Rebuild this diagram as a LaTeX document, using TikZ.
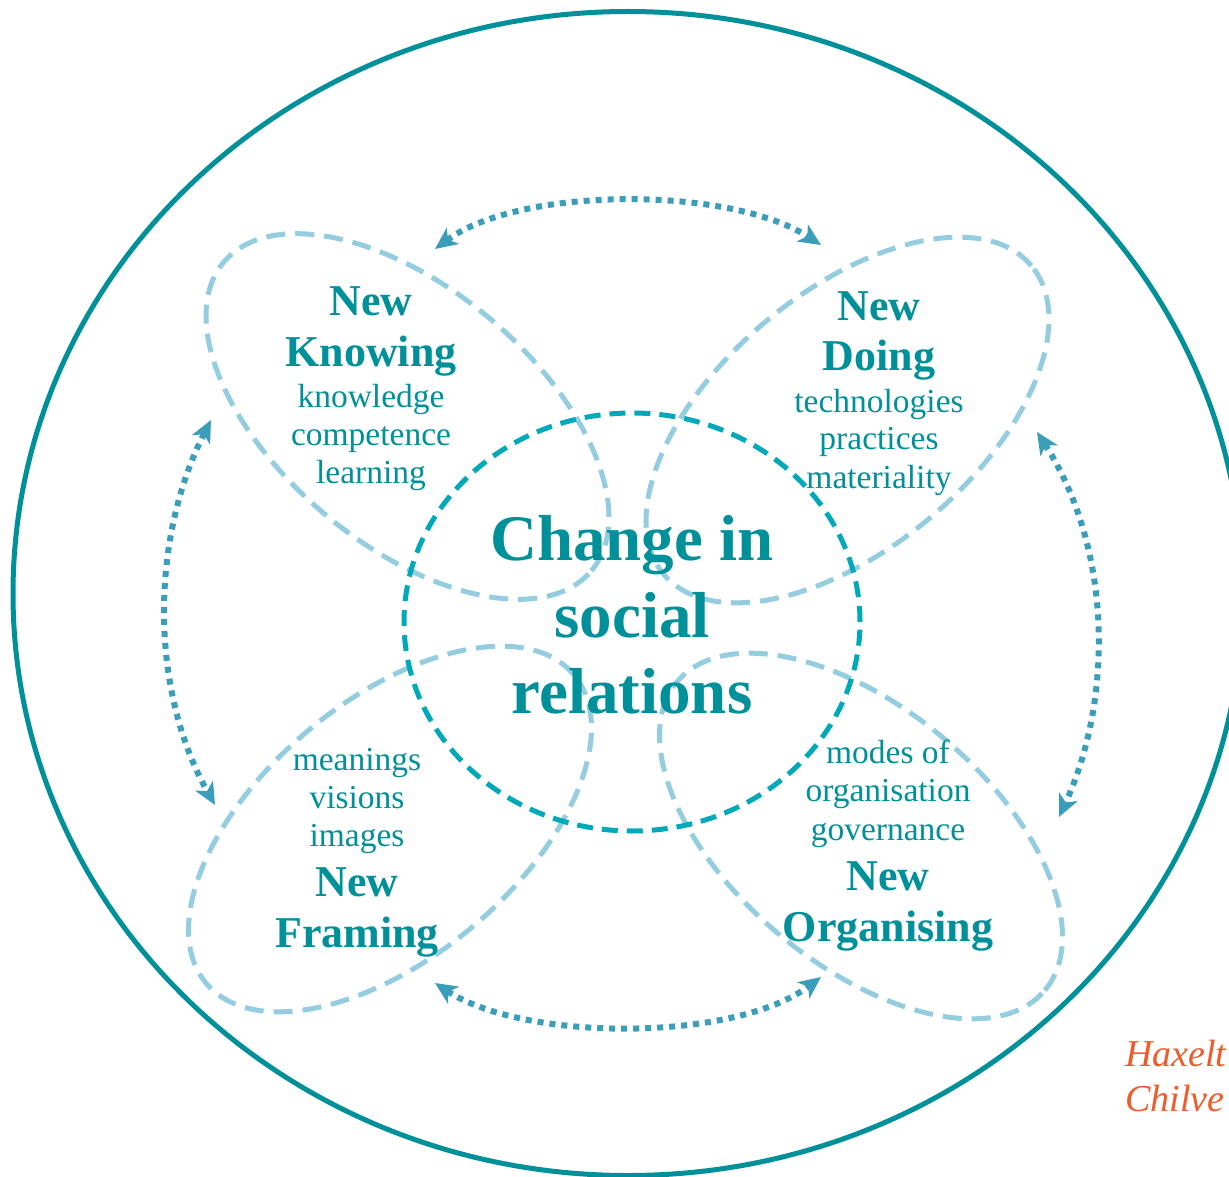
\documentclass[tikz,border=0pt]{standalone}
\usepackage{fontspec}
\setmainfont{Liberation Serif}
\usetikzlibrary{arrows.meta,shapes.geometric}
\definecolor{tealdark}{HTML}{00909A}
\definecolor{ctrcyan}{HTML}{00A9B9}
\definecolor{petalblue}{HTML}{94CDDF}
\definecolor{arrowblue}{HTML}{3A9DBA}
\definecolor{orangetxt}{HTML}{F15A29}
\tikzset{
  petal/.style={ellipse, draw=petalblue, line width=5pt, dash pattern=on 19pt off 10pt,
    minimum width=480pt, minimum height=256pt, inner sep=0pt},
  hub/.style={ellipse, draw=ctrcyan, line width=5pt, dash pattern=on 16pt off 9pt,
    minimum width=456pt, minimum height=418pt, inner sep=0pt},
  rim/.style={ellipse, draw=tealdark, line width=5pt, minimum width=1230pt,
    minimum height=1164pt, inner sep=0pt},
  dotarrow/.style={draw=arrowblue, line width=6pt, dash pattern=on 6pt off 6pt,
    {Stealth[length=22pt,width=20pt,inset=6pt]}-{Stealth[length=22pt,width=20pt,inset=6pt]}},
  ttl/.style={text=tealdark, font=\fontsize{44}{44}\selectfont\bfseries, anchor=base, inner sep=0pt},
  sub/.style={text=tealdark, font=\fontsize{33.5}{33.5}\selectfont, anchor=base, inner sep=0pt},
  big/.style={text=tealdark, font=\fontsize{65}{65}\selectfont\bfseries, anchor=base, inner sep=0pt},
  cite/.style={text=orangetxt, font=\fontsize{38}{38}\selectfont\itshape, anchor=base west, inner sep=0pt}
}
\begin{document}
\begin{tikzpicture}[x=1pt,y=-1pt]
\useasboundingbox (0,0) rectangle (1229,1177);
\fill[white] (0,0) rectangle (1229,1177);
% outer rim
\node[rim] (outer) at (628,593.5) {};
% petals
\node[petal, rotate=-40] (pk) at (407.5,416.5) {};
\node[petal, rotate=40] (pd) at (847.5,420) {};
\node[petal, rotate=40] (pf) at (390,829) {};
\node[petal, rotate=-40] (po) at (861,836) {};
% hub
\node[hub] (hub) at (632,622) {};
% arrow ends
\coordinate (aTl) at (435,249);
\coordinate (aTr) at (821,245);
\coordinate (aLt) at (211,420);
\coordinate (aLb) at (215,805);
\coordinate (aRt) at (1037,432);
\coordinate (aRb) at (1059,817);
\coordinate (aBl) at (435,983);
\coordinate (aBr) at (821,977);
\draw[dotarrow] (aTl) .. controls (520,186) and (730,186) .. (aTr);
\draw[dotarrow] (aBl) .. controls (525,1042) and (735,1042) .. (aBr);
\draw[dotarrow] (aLt) .. controls (150,540) and (150,690) .. (aLb);
\draw[dotarrow] (aRt) .. controls (1113,550) and (1113,700) .. (aRb);
% texts: Knowing
\node[ttl] (kn) at (371,315) {New};
\node[ttl] (kt) at (371,366) {Knowing};
\node[sub] (k1) at (371,407) {knowledge};
\node[sub] (k2) at (371,445) {competence};
\node[sub] (k3) at (371,483) {learning};
% Doing
\node[ttl] (dn) at (879,320) {New};
\node[ttl] (dt) at (879,370) {Doing};
\node[sub] (d1) at (879,412) {technologies};
\node[sub] (d2) at (879,449) {practices};
\node[sub] (d3) at (879,488) {materiality};
% Framing
\node[sub] (f1) at (357,770) {meanings};
\node[sub] (f2) at (357,808) {visions};
\node[sub] (f3) at (357,846) {images};
\node[ttl] (fn) at (357,896) {New};
\node[ttl] (ft) at (357,947) {Framing};
% Organising
\node[sub] (o1) at (888,763) {modes of};
\node[sub] (o2) at (888,801) {organisation};
\node[sub] (o3) at (888,840) {governance};
\node[ttl] (on) at (888,890) {New};
\node[ttl] (ot) at (888,941) {Organising};
% centre
\node[big] (c1) at (632,560) {Change in};
\node[big] (c2) at (632,637) {social};
\node[big] (c3) at (632,713) {relations};
% citation
\node[cite] (h1) at (1125,1066) {Haxelt};
\node[cite] (h2) at (1125,1111) {Chilve};
\end{tikzpicture}
\end{document}
